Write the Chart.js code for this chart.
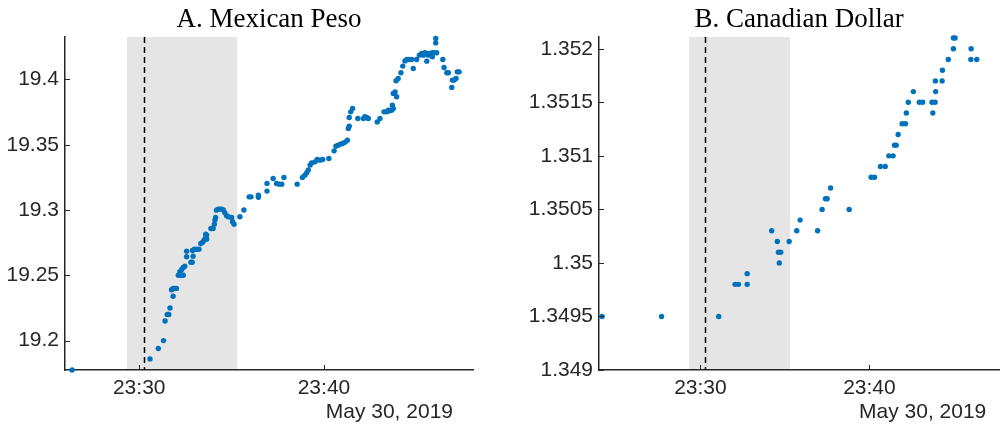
<!DOCTYPE html>
<html>
<head>
<meta charset="utf-8">
<script src="https://cdn.jsdelivr.net/npm/chart.js"></script>
<style>
  body { margin: 0; background: #fff; }
  .panel { position: absolute; top: 0; }
</style>
</head>
<body>
<div class="panel" style="left:0"><canvas id="peso" width="501" height="429"></canvas></div>
<div class="panel" style="left:501px"><canvas id="cad" width="501" height="429"></canvas></div>
<script>
// quotes, May 30 2019 (times are hh:mm:ss)
const pesoTimes = [
  '23:26:22', '23:30:35', '23:31:02', '23:31:19', '23:31:24', '23:31:31', '23:31:36', '23:31:40',
  '23:31:50', '23:31:45', '23:31:50', '23:31:56', '23:32:01', '23:32:07', '23:32:12', '23:32:18',
  '23:32:23', '23:32:12', '23:32:18', '23:32:23', '23:32:28', '23:32:34', '23:32:34', '23:32:48',
  '23:32:52', '23:32:55', '23:32:53', '23:32:59', '23:33:06', '23:33:14', '23:33:20', '23:33:26',
  '23:33:31', '23:33:36', '23:33:39', '23:33:36', '23:33:39', '23:33:53', '23:34:00', '23:34:04',
  '23:34:06', '23:34:08', '23:34:11', '23:34:17', '23:34:22', '23:34:28', '23:34:33', '23:34:38',
  '23:34:44', '23:34:49', '23:35:00', '23:35:03', '23:35:08', '23:35:27', '23:35:40', '23:35:57',
  '23:36:03', '23:36:27', '23:36:27', '23:36:55', '23:36:55', '23:37:15', '23:37:26', '23:37:34',
  '23:37:43', '23:37:50', '23:38:33', '23:38:50', '23:38:58', '23:39:04', '23:39:09', '23:39:15',
  '23:39:20', '23:39:31', '23:39:38', '23:39:47', '23:39:56', '23:40:16', '23:40:33', '23:40:39',
  '23:40:46', '23:40:54', '23:41:01', '23:41:09', '23:41:16', '23:41:19', '23:41:22', '23:41:22',
  '23:41:27', '23:41:33', '23:41:50', '23:42:08', '23:42:13', '23:42:19', '23:42:24', '23:42:53',
  '23:43:02', '23:43:15', '23:43:24', '23:43:29', '23:43:34', '23:43:40', '23:43:45', '23:43:42',
  '23:43:45', '23:43:51', '23:43:56', '23:43:54', '23:44:01', '23:44:10', '23:44:16', '23:44:23',
  '23:44:29', '23:44:37', '23:44:45', '23:44:50', '23:45:01', '23:45:10', '23:45:17', '23:45:23',
  '23:45:28', '23:45:34', '23:45:39', '23:45:44', '23:45:52', '23:45:57', '23:46:06', '23:45:34',
  '23:45:52', '23:46:03', '23:46:03', '23:46:26', '23:46:30', '23:46:39', '23:46:44', '23:46:55',
  '23:46:57', '23:47:03', '23:47:09', '23:47:13', '23:47:19'
];
const pesoValues = [
  19.1775, 19.186, 19.194, 19.2, 19.215, 19.22, 19.22, 19.225,
  19.234, 19.239, 19.24, 19.24, 19.24, 19.25, 19.25, 19.25,
  19.25, 19.2527, 19.2545, 19.256, 19.257, 19.2642, 19.2685, 19.26,
  19.26, 19.2647, 19.269, 19.27, 19.27, 19.27, 19.2744, 19.2754,
  19.277, 19.279, 19.2808, 19.2815, 19.2777, 19.2859, 19.2859, 19.2892,
  19.2923, 19.2943, 19.2999, 19.3007, 19.3007, 19.3007, 19.3, 19.2979,
  19.2956, 19.2948, 19.2943, 19.291, 19.2892, 19.2948, 19.3, 19.3101,
  19.3101, 19.3114, 19.3097, 19.3145, 19.3204, 19.3242, 19.3204, 19.3198,
  19.3198, 19.325, 19.3198, 19.325, 19.3267, 19.3285, 19.3306, 19.3344,
  19.3361, 19.3369, 19.3387, 19.3382, 19.3387, 19.3395, 19.3453, 19.3489,
  19.3497, 19.3505, 19.351, 19.352, 19.3535, 19.3625, 19.3642, 19.3709,
  19.3752, 19.3778, 19.3701, 19.3701, 19.3714, 19.3709, 19.3701, 19.3675,
  19.3701, 19.3752, 19.3752, 19.3765, 19.376, 19.3765, 19.3778, 19.3803,
  19.3893, 19.3905, 19.3867, 19.399, 19.4008, 19.4051, 19.4102, 19.4142,
  19.4153, 19.4153, 19.4153, 19.4084, 19.4153, 19.4186, 19.4199, 19.4186,
  19.4204, 19.4199, 19.4186, 19.4199, 19.4204, 19.4204, 19.4204, 19.414,
  19.4173, 19.4314, 19.428, 19.4153, 19.4092, 19.4051, 19.4051, 19.3939,
  19.3995, 19.3995, 19.4008, 19.4058, 19.4058
];

const cadTimes = [
  '23:24:11', '23:27:42', '23:31:05', '23:32:03', '23:32:15', '23:32:46', '23:32:46', '23:34:13',
  '23:34:33', '23:34:37', '23:34:45', '23:34:40', '23:35:15', '23:35:42', '23:35:54', '23:36:56',
  '23:37:12', '23:37:24', '23:37:30', '23:37:42', '23:38:48', '23:40:06', '23:40:18', '23:40:39',
  '23:40:56', '23:41:09', '23:41:24', '23:41:29', '23:41:35', '23:41:42', '23:41:56', '23:42:08',
  '23:42:11', '23:42:18', '23:42:36', '23:42:57', '23:43:09', '23:43:45', '23:43:42', '23:43:53',
  '23:43:55', '23:43:54', '23:44:18', '23:44:19', '23:44:40', '23:44:58', '23:44:58', '23:45:04',
  '23:46:01', '23:46:00', '23:46:21'
];
const cadValues = [
  1.3495, 1.3495, 1.3495, 1.3498, 1.3498, 1.3498, 1.3499, 1.3503,
  1.3502, 1.3501, 1.3501, 1.35, 1.3502, 1.3503, 1.3504, 1.3503,
  1.3505, 1.3506, 1.3506, 1.3507, 1.3505, 1.3508, 1.3508, 1.3509,
  1.3509, 1.351, 1.351, 1.3511, 1.3511, 1.3512, 1.3513, 1.3513,
  1.3514, 1.3515, 1.3516, 1.3515, 1.3515, 1.3514, 1.3515, 1.3515,
  1.3516, 1.3517, 1.3517, 1.3518, 1.3519, 1.352, 1.3521, 1.3521,
  1.352, 1.3519, 1.3519
];

const xTickTimes = ['23:30', '23:40'];
const pesoYTicks = [19.2, 19.25, 19.3, 19.35, 19.4];
const cadYTicks = [1.349, 1.3495, 1.35, 1.3505, 1.351, 1.3515, 1.352];
const pesoXRange = ['23:25:59', '23:48:04'];
const cadXRange = ['23:24:00', '23:47:41'];
const pesoYRange = [19.1775, 19.4325];
const cadYRange = [1.349, 1.35211];
const eventWindow = ['23:29:20', '23:35:18'];
const eventTime = '23:30:17';
const dateLabel = 'May 30, 2019';

const AXIS = '#262626';
const BLUE = '#0072BD';
const SANS = '"Liberation Sans", Arial, sans-serif';

function toMin(s) {
  const p = s.split(':').map(Number);
  return p[0] * 60 + p[1] + (p[2] || 0) / 60;
}
function fmtTime(v) {
  const m = Math.round(v);
  return Math.floor(m / 60) + ':' + String(m % 60).padStart(2, '0');
}

const panelPlugin = {
  id: 'panel',
  beforeDraw(chart, args, opts) {
    const { ctx, chartArea: a, scales: { x } } = chart;
    const x0 = x.getPixelForValue(toMin(eventWindow[0]));
    const x1 = x.getPixelForValue(toMin(eventWindow[1]));
    ctx.save();
    ctx.fillStyle = '#e5e5e5';
    ctx.fillRect(x0, a.top, x1 - x0, a.bottom - a.top);
    ctx.restore();
  },
  beforeDatasetsDraw(chart) {
    const { ctx, chartArea: a, scales: { x } } = chart;
    const xe = Math.round(x.getPixelForValue(toMin(eventTime))) + 0.5;
    ctx.save();
    ctx.strokeStyle = '#000';
    ctx.lineWidth = 1.5;
    ctx.setLineDash([6, 4]);
    ctx.beginPath();
    ctx.moveTo(xe, a.top);
    ctx.lineTo(xe, a.bottom);
    ctx.stroke();
    ctx.restore();
  },
  afterDraw(chart, args, opts) {
    const { ctx, chartArea: a, scales: { x, y } } = chart;
    ctx.save();
    // inward ticks
    ctx.strokeStyle = AXIS;
    ctx.lineWidth = 1;
    ctx.beginPath();
    x.ticks.forEach(t => {
      const px = Math.round(x.getPixelForValue(t.value)) + 0.5;
      ctx.moveTo(px, a.bottom);
      ctx.lineTo(px, a.bottom - 5);
    });
    y.ticks.forEach(t => {
      const py = Math.round(y.getPixelForValue(t.value)) + 0.5;
      ctx.moveTo(a.left, py);
      ctx.lineTo(a.left + 5, py);
    });
    ctx.stroke();
    // title
    ctx.fillStyle = '#000';
    ctx.font = '27px "Liberation Serif", "Times New Roman", serif';
    ctx.textAlign = 'center';
    ctx.textBaseline = 'alphabetic';
    ctx.fillText(opts.title, (a.left + a.right) / 2, 27);
    // date under the time axis
    ctx.fillStyle = AXIS;
    ctx.font = '21px ' + SANS;
    ctx.textAlign = 'right';
    ctx.fillText(dateLabel, a.right - opts.dateInset, 418);
    ctx.restore();
  }
};

function makeChart(id, title, times, values, xRange, yRange, yTicks, yWidth, padRight, dateInset) {
  const points = times.map((t, i) => ({ x: toMin(t), y: values[i] }));
  return new Chart(document.getElementById(id), {
    type: 'scatter',
    data: {
      datasets: [{
        data: points,
        backgroundColor: BLUE,
        borderWidth: 0,
        pointRadius: 2.7,
        pointHoverRadius: 2.7,
        clip: false
      }]
    },
    options: {
      responsive: false,
      devicePixelRatio: 1,
      animation: false,
      events: [],
      layout: { padding: { top: 37, right: padRight, left: 0, bottom: 0 } },
      plugins: {
        legend: { display: false },
        tooltip: { enabled: false },
        panel: { title: title, dateInset: dateInset }
      },
      scales: {
        x: {
          type: 'linear',
          min: toMin(xRange[0]),
          max: toMin(xRange[1]),
          afterBuildTicks: s => { s.ticks = xTickTimes.map(t => ({ value: toMin(t) })); },
          afterFit: s => { s.height = 59; },
          ticks: {
            callback: v => fmtTime(v),
            font: { family: SANS, size: 21 },
            color: AXIS,
            padding: 6,
            maxRotation: 0
          },
          grid: { drawOnChartArea: false, drawTicks: false },
          border: { color: AXIS, width: 1.5 }
        },
        y: {
          min: yRange[0],
          max: yRange[1],
          afterBuildTicks: s => { s.ticks = yTicks.map(v => ({ value: v })); },
          afterFit: s => { s.width = yWidth; },
          ticks: {
            callback: v => String(v),
            font: { family: SANS, size: 21 },
            color: AXIS,
            padding: 6
          },
          grid: { drawOnChartArea: false, drawTicks: false },
          border: { color: AXIS, width: 1.5 }
        }
      }
    },
    plugins: [panelPlugin]
  });
}

makeChart('peso', 'A. Mexican Peso', pesoTimes, pesoValues, pesoXRange, pesoYRange, pesoYTicks, 65, 28, 20);
makeChart('cad', 'B. Canadian Dollar', cadTimes, cadValues, cadXRange, cadYRange, cadYTicks, 98, 2, 13);
</script>
</body>
</html>
